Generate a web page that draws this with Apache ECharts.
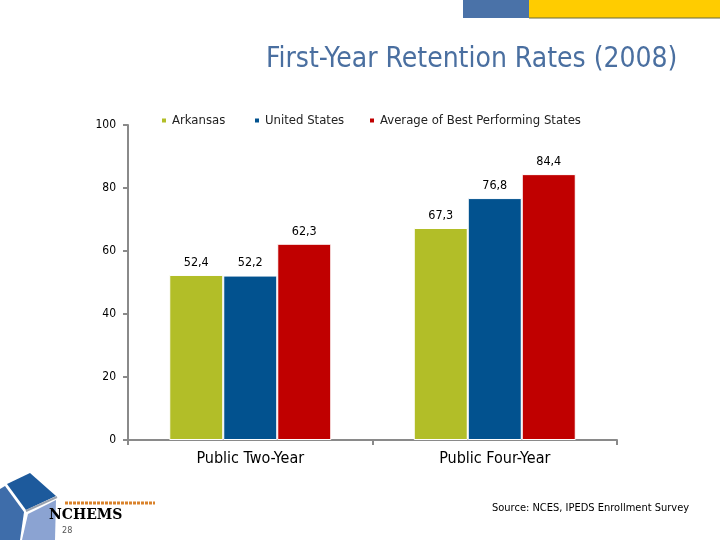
<!DOCTYPE html>
<html><head><meta charset="utf-8">
<script src="https://cdn.jsdelivr.net/npm/echarts@6/dist/echarts.min.js"></script>
<style>html,body{margin:0;padding:0;background:#fff}#c{width:720px;height:540px}</style>
</head><body><div id="c"></div>
<script>
const categories = ['Public Two-Year', 'Public Four-Year'];
const seriesNames = ['Arkansas', 'United States', 'Average of Best Performing States'];
const arkansas = [52.4, 67.3];
const unitedStates = [52.2, 76.8];
const bestStates = [62.3, 84.4];
const yTicks = [0, 20, 40, 60, 80, 100];
const colors = ['#B2BE28', '#02528F', '#C00000'];
const values = [arkansas, unitedStates, bestStates];

const font = '"DejaVu Sans Condensed", "DejaVu Sans", Tahoma, sans-serif';
const chart = echarts.init(document.getElementById('c'));
const legendLeft = [155, 248, 363];
chart.setOption({
  animation: false,
  backgroundColor: '#fff',
  title: {
    text: 'First-Year Retention Rates (2008)',
    left: 261, top: 41,
    textStyle: { color: '#4A6FA0', fontSize: 28, fontWeight: 'normal', fontFamily: font }
  },
  legend: seriesNames.map((n, i) => ({
    data: [n], left: legendLeft[i], top: 109,
    itemWidth: 6, itemHeight: 6, itemGap: 4, icon: 'rect',
    textStyle: { fontSize: 13, color: '#222', fontFamily: font }
  })),
  grid: { left: 128, right: 103, top: 125, bottom: 100 },
  xAxis: {
    type: 'category', data: categories,
    axisLine: { lineStyle: { color: '#8A8A8A', width: 2 } },
    axisTick: { show: true, length: 5, lineStyle: { color: '#8A8A8A', width: 2 } },
    axisLabel: { color: '#000', fontSize: 16, fontFamily: font, margin: 11 }
  },
  yAxis: {
    type: 'value', min: 0, max: 100, interval: 20,
    axisLine: { show: true, lineStyle: { color: '#8A8A8A', width: 2 } },
    axisTick: { show: true, length: 5, lineStyle: { color: '#8A8A8A', width: 2 } },
    splitLine: { show: false },
    axisLabel: { color: '#000', fontSize: 12, fontFamily: font, margin: 12,
      formatter: v => yTicks.includes(v) ? String(v) : '' }
  },
  series: seriesNames.map((n, i) => ({
    name: n, type: 'bar', data: values[i], barWidth: 54, barGap: '0%',
    itemStyle: { color: colors[i], borderColor: '#fff', borderWidth: 1 },
    label: { show: true, position: 'top', distance: 6, color: '#000', fontSize: 12.5, fontFamily: font,
      formatter: p => String(p.value.toFixed(1)).replace('.', ',') }
  })),
  graphic: [
    { type: 'rect', shape: { x: 463, y: 0, width: 66, height: 18 }, style: { fill: '#4A72A8' } },
    { type: 'rect', shape: { x: 529, y: 0, width: 191, height: 18 }, style: { fill: '#FFCC00' } },
    { type: 'line', shape: { x1: 529, y1: 18, x2: 720, y2: 18 }, style: { stroke: '#6B6B3A', lineWidth: 1 } },
    { type: 'polygon', shape: { points: [[0,489],[5,486],[24,512],[20,540],[0,540]] }, style: { fill: '#3E6DAA' } },
    { type: 'polygon', shape: { points: [[7,484],[30,473],[56,496],[26,510]] }, style: { fill: '#1D5A9C' } },
    { type: 'polyline', shape: { points: [[26,511],[57,497]] }, style: { stroke: '#9AA3B0', lineWidth: 2 } },
    { type: 'polygon', shape: { points: [[28,514],[56,500],[55,540],[22,540]] }, style: { fill: '#8BA3D2' } },
    { type: 'line', shape: { x1: 65, y1: 503, x2: 155, y2: 503 }, style: { stroke: '#D9822B', lineWidth: 3, lineDash: [3, 1] } },
    { type: 'text', left: 49, top: 508, style: { text: 'NCHEMS', fill: '#000', font: 'bold 14px "DejaVu Serif", "Liberation Serif", serif' } },
    { type: 'text', left: 62, top: 526, style: { text: '28', fill: '#555', font: '9px ' + font } },
    { type: 'text', left: 492, top: 503, style: { text: 'Source: NCES, IPEDS Enrollment Survey', fill: '#000', font: '11px ' + font } }
  ]
});
</script></body></html>
